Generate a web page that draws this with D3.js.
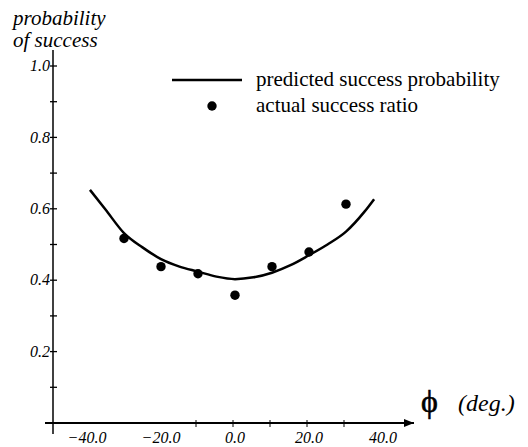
<!DOCTYPE html>
<html><head><meta charset="utf-8">
<script src="https://cdn.jsdelivr.net/npm/d3@7"></script>
<style>
html,body{margin:0;padding:0;background:#fff;}
svg{display:block;}
text{font-family:"Liberation Serif","Times New Roman",serif;fill:#000;}
</style></head>
<body>
<svg id="chart" width="528" height="447"></svg>
<script>
// ---- data ----
const curvePhi = [-39.2, -35, -30, -25, -20, -15, -10, -5, 0, 5, 10, 15, 20, 25, 30, 35, 37.6];
const curveProb = [0.653, 0.598, 0.532, 0.492, 0.459, 0.438, 0.424, 0.410, 0.403, 0.408, 0.421, 0.442, 0.470, 0.500, 0.536, 0.592, 0.627];
const pointPhi = [-30, -20, -10, 0, 10, 20, 30];
const pointProb = [0.517, 0.438, 0.418, 0.358, 0.438, 0.479, 0.613];
const xTickLabels = [-40, -20, 0, 20, 40];
const xTickMarks = [-10, 0, 10, 20, 30];
const yTickMarks = [0.1, 0.2, 0.3, 0.4, 0.5, 0.6, 0.7, 0.8, 0.9, 1.0];
const yTickLabels = [0.2, 0.4, 0.6, 0.8, 1.0];
const legendItems = ["predicted success probability", "actual success ratio"];

const svg = d3.select("#chart");
const x = d3.scaleLinear().domain([-40, 40]).range([87, 383]);
const y = d3.scaleLinear().domain([0, 1]).range([423, 66]);
const x0 = 53; // y-axis position

// y axis
svg.append("line").attr("x1", x0).attr("x2", x0).attr("y1", 50).attr("y2", 434)
  .attr("stroke", "#000").attr("stroke-width", 1.5);
svg.selectAll(".ytick").data(yTickMarks).join("line")
  .attr("x1", x0 - 3).attr("x2", x0 + 4)
  .attr("y1", d => y(d)).attr("y2", d => y(d))
  .attr("stroke", "#000").attr("stroke-width", 1.3);
svg.selectAll(".ylab").data(yTickLabels).join("text")
  .attr("x", x0 - 3).attr("y", d => y(d)).attr("dy", "0.33em")
  .attr("text-anchor", "end").style("font-style", "italic").style("font-size", "16px")
  .text(d => d.toFixed(1));

// x axis
svg.append("defs").append("marker").attr("id", "arr")
  .attr("viewBox", "0 0 10 8").attr("refX", 10).attr("refY", 4)
  .attr("markerWidth", 10).attr("markerHeight", 8).attr("markerUnits", "userSpaceOnUse")
  .attr("orient", "auto")
  .append("path").attr("d", "M0,0 L10,4 L0,8 Z").attr("fill", "#000");
svg.append("line").attr("x1", 45).attr("x2", 414).attr("y1", y(0)).attr("y2", y(0))
  .attr("stroke", "#000").attr("stroke-width", 2).attr("marker-end", "url(#arr)");
svg.selectAll(".xtick").data(xTickMarks).join("line")
  .attr("x1", d => x(d) - 2).attr("x2", d => x(d) - 2)
  .attr("y1", y(0) - 3).attr("y2", y(0) + 4)
  .attr("stroke", "#000").attr("stroke-width", 1);
svg.selectAll(".xlab").data(xTickLabels).join("text")
  .attr("x", d => x(d)).attr("y", 443)
  .attr("text-anchor", "middle").style("font-style", "italic").style("font-size", "16px")
  .text(d => (d < 0 ? "\u2212" : "") + Math.abs(d).toFixed(1));

// axis titles
svg.append("text").attr("x", 13).attr("y", 25).style("font-style", "italic").style("font-size", "21px").text("probability");
svg.append("text").attr("x", 13).attr("y", 47).style("font-style", "italic").style("font-size", "21px").text("of success");
svg.append("text").attr("x", 421).attr("y", 412).style("font-size", "32px")
  .attr("stroke", "#000").attr("stroke-width", 0.6).text("\u03D5");
svg.append("text").attr("x", 458).attr("y", 411).style("font-style", "italic").style("font-size", "24px").text("(deg.)");

// curve
const line = d3.line().x(d => x(d[0])).y(d => y(d[1])).curve(d3.curveMonotoneX);
svg.append("path").datum(curvePhi.map((p, i) => [p, curveProb[i]]))
  .attr("d", line).attr("fill", "none").attr("stroke", "#000").attr("stroke-width", 2.5);

// points
svg.selectAll(".pt").data(pointPhi.map((p, i) => [p, pointProb[i]])).join("circle")
  .attr("cx", d => x(d[0])).attr("cy", d => y(d[1])).attr("r", 4.7).attr("fill", "#000");

// legend
svg.append("line").attr("x1", 172).attr("x2", 242).attr("y1", 80).attr("y2", 80)
  .attr("stroke", "#000").attr("stroke-width", 2.5);
svg.append("circle").attr("cx", 212).attr("cy", 106).attr("r", 4.7).attr("fill", "#000");
svg.selectAll(".leg").data(legendItems).join("text")
  .attr("x", 256).attr("y", (d, i) => 86 + i * 26)
  .style("font-size", "21px").text(d => d);
</script>
</body></html>
